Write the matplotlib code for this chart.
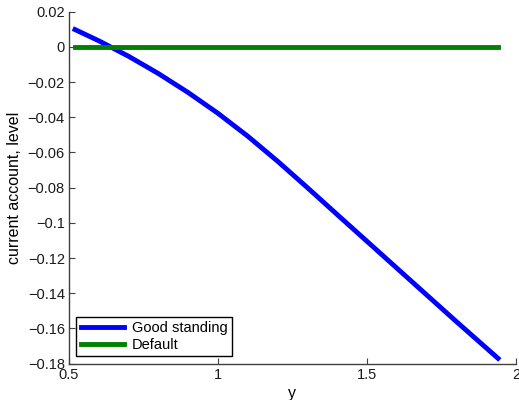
import matplotlib
matplotlib.use("Agg")
from matplotlib import pyplot as plt

y_grid = [0.52, 0.6, 0.7, 0.8, 0.9, 1.0, 1.1, 1.2, 1.3, 1.4, 1.5, 1.6, 1.7, 1.8, 1.94]
ca_good = [0.0098, 0.0034, -0.0054, -0.0152, -0.0260, -0.0378, -0.0508, -0.0650,
           -0.0800, -0.0953, -0.1105, -0.1257, -0.1409, -0.1561, -0.1770]
ca_default = [0.0] * len(y_grid)

xticks = [0.5, 1, 1.5, 2]
yticks = [0.02, 0, -0.02, -0.04, -0.06, -0.08, -0.1, -0.12, -0.14, -0.16, -0.18]

plt.rcParams['font.family'] = ['Liberation Sans', 'DejaVu Sans']
plt.rcParams['font.size'] = 10.5

fig = plt.figure(figsize=(5.19, 4.0), dpi=100)
ax = fig.add_axes([0.133, 0.091, 0.861, 0.88])

ax.plot(y_grid, ca_good, color=(0, 0, 1), lw=3.5, label='Good standing')
ax.plot(y_grid, ca_default, color=(0, 0.5, 0), lw=3.5, label='Default')

ax.set_xlim(0.5, 2)
ax.set_ylim(-0.18, 0.02)
ax.set_xticks(xticks)
ax.set_xticklabels(['0.5', '1', '1.5', '2'])
ax.set_yticks(yticks)
ax.set_yticklabels(['0.02', '0', '\u22120.02', '\u22120.04', '\u22120.06', '\u22120.08',
                    '\u22120.1', '\u22120.12', '\u22120.14', '\u22120.16', '\u22120.18'])

for side in ['top', 'right']:
    ax.spines[side].set_visible(False)
for side in ['left', 'bottom']:
    ax.spines[side].set_color('#404040')
    ax.spines[side].set_linewidth(1)
ax.tick_params(direction='in', length=4, color='#404040', labelcolor='#1a1a1a', pad=3)

ax.set_xlabel('y', fontsize=11.5, labelpad=3)
ax.set_ylabel('current account, level', fontsize=11.5, labelpad=4)

leg = ax.legend(loc='lower left', fancybox=False, framealpha=1, edgecolor='black',
                handlelength=3.0, borderaxespad=0.5, borderpad=0.3, labelspacing=0.2,
                handletextpad=0.5)
leg.get_frame().set_linewidth(1)

plt.savefig('out.png', dpi=100)
